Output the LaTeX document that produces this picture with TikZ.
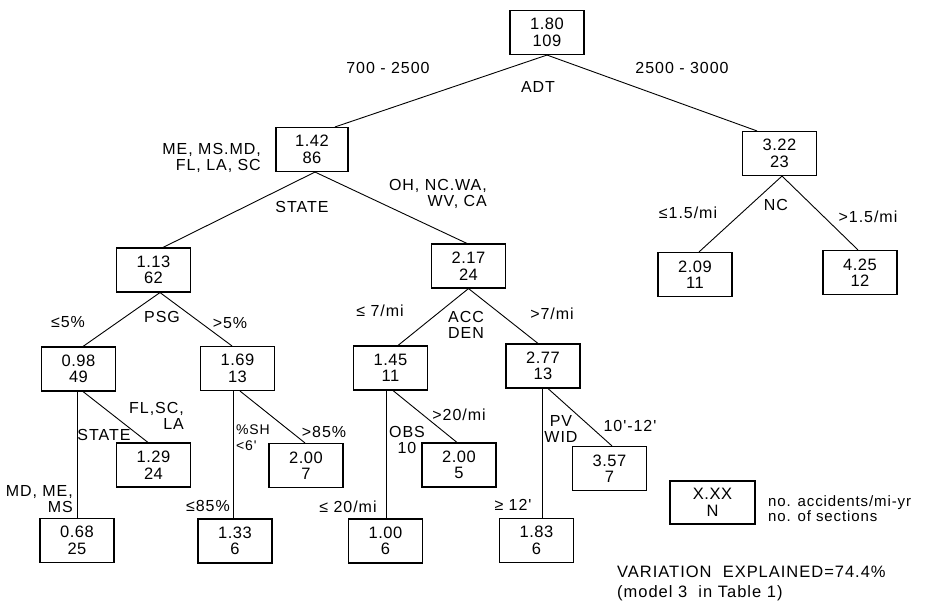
\documentclass[tikz,border=0pt]{standalone}
\usepackage{fontspec}
\setmainfont{Liberation Sans}
\newfontfamily\lblfont[LetterSpace=6]{Liberation Sans}
\newfontfamily\boxfont[LetterSpace=3]{Liberation Sans}
\usetikzlibrary{calc}
\begin{document}
\begin{tikzpicture}[x=1pt,y=-1pt,
  box/.style={draw,line width=1.1pt,minimum width=74pt,minimum height=44pt,inner sep=0pt,align=center,font=\boxfont\fontsize{16.5}{16.5}\selectfont},
  lbl/.style={inner sep=0pt,align=center,font=\lblfont\fontsize{16}{16}\selectfont},
  edge/.style={line width=0.9pt}]
\useasboundingbox (0,0) rectangle (933,604);
% boxes
\node[box] (root) at (547,32.5) {1.80\\109};
\node[box,minimum width=72pt] (n142) at (312,149.5) {1.42\\86};
\node[box] (n217) at (468.5,266) {2.17\\24};
\node[box] (n322) at (779.5,153.5) {3.22\\23};
\node[box] (n209) at (695,274.5) {2.09\\11};
\node[box] (n425) at (860,272.5) {4.25\\12};
\node[box] (n113) at (153.5,270) {1.13\\62};
\node[box] (n098) at (78.5,369) {0.98\\49};
\node[box] (n169) at (237.5,368.5) {1.69\\13};
\node[box] (n129) at (153.5,465) {1.29\\24};
\node[box] (n068) at (77,540.5) {0.68\\25};
\node[box] (n133) at (235,541) {1.33\\6};
\node[box] (n200a) at (306,465.5) {2.00\\7};
\node[box] (n145) at (390.5,368) {1.45\\11};
\node[box] (n277) at (543,366) {2.77\\13};
\node[box] (n200b) at (459,465) {2.00\\5};
\node[box] (n100) at (385.5,541) {1.00\\6};
\node[box] (n183) at (536.5,540.5) {1.83\\6};
\node[box] (n357) at (609.5,468.5) {3.57\\7};
\node[box,minimum width=85pt,minimum height=43pt] (leg) at (712.5,502.5) {X.XX\\N};
% connectors
\draw[edge] (root.south) -- ([xshift=23pt]n142.north);
\draw[edge] (root.south) -- ([xshift=-22.5pt]n322.north);
\draw[edge] ([xshift=3pt]n142.south) -- ([xshift=9.5pt]n113.north);
\draw[edge] ([xshift=3pt]n142.south) -- ([xshift=-1.5pt]n217.north);
\draw[edge] ([xshift=6.5pt]n113.south) -- ([xshift=4.5pt]n098.north);
\draw[edge] ([xshift=6.5pt]n113.south) -- ([xshift=-5.5pt]n169.north);
\draw[edge] (n217.south) -- ([xshift=7.5pt]n145.north);
\draw[edge] (n217.south) -- ([xshift=-5pt]n277.north);
\draw[edge] ([xshift=2.5pt]n322.south) -- ([xshift=4pt]n209.north);
\draw[edge] ([xshift=2.5pt]n322.south) -- ([xshift=-2pt]n425.north);
\draw[edge] ([xshift=-1.5pt]n098.south) -- ([xshift=-1.5pt]n098.south |- n068.north);
\draw[edge] ([xshift=4.5pt]n098.south) -- ([xshift=-5.5pt]n129.north);
\draw[edge] ([xshift=-4.5pt]n169.south) -- ([xshift=-4.5pt]n169.south |- n133.north);
\draw[edge] ([xshift=2.5pt]n169.south) -- ([xshift=-1pt]n200a.north);
\draw[edge] ([xshift=-4.5pt]n145.south) -- ([xshift=-4.5pt]n145.south |- n100.north);
\draw[edge] ([xshift=2.5pt]n145.south) -- ([xshift=-2pt]n200b.north);
\draw[edge] ([xshift=-1pt]n277.south) -- ([xshift=-1pt]n277.south |- n183.north);
\draw[edge] ([xshift=5pt]n277.south) -- ([xshift=2.5pt]n357.north);
% labels
\node[lbl] (l1) at (388,68) {700 - 2500};
\node[lbl] (l2) at (682,68) {2500 - 3000};
\node[lbl] (l3) at (538,87) {ADT};
\node[lbl,align=right,anchor=east] (l4) at (261,157.5) {ME, MS.MD,\\FL, LA, SC};
\node[lbl] (l5) at (302,207) {STATE};
\node[lbl,align=right,anchor=east] (l6) at (487,194) {OH, NC.WA,\\WV, CA};
\node[lbl] (l7) at (688,213) {≤1.5/mi};
\node[lbl] (l8) at (776,205) {NC};
\node[lbl] (l9) at (868,217) {>1.5/mi};
\node[lbl] (l10) at (68,322) {≤5\%};
\node[lbl] (l11) at (162,317) {PSG};
\node[lbl] (l12) at (230,323) {>5\%};
\node[lbl] (l13) at (380,311) {≤ 7/mi};
\node[lbl] (l14) at (466,325) {ACC\\DEN};
\node[lbl] (l15) at (552,314) {>7/mi};
\node[lbl,align=right,anchor=east] (l16) at (184,416) {FL,SC,\\LA};
\node[lbl] (l17) at (104,435) {STATE};
\node[lbl,anchor=west,align=left,font=\lblfont\fontsize{14}{16}\selectfont] (l19) at (236,438) {\%SH\\<6'};
\node[lbl,align=right,anchor=east] (l18) at (73,499) {MD, ME,\\MS};
\node[lbl] (l20) at (324,432) {>85\%};
\node[lbl] (l21) at (208,506) {≤85\%};
\node[lbl] (l22) at (459,415) {>20/mi};
\node[lbl] (l23) at (407,439.5) {OBS\\10};
\node[lbl] (l24) at (348,507) {≤ 20/mi};
\node[lbl] (l25) at (561,428.5) {PV\\WID};
\node[lbl] (l26) at (630,426) {10'-12'};
\node[lbl] (l27) at (513,505) {≥ 12'};
\node[lbl,anchor=west,align=left,font=\lblfont\fontsize{15}{12}\selectfont] (l28) at (768,509) {no. accidents/mi-yr\\no. of sections};
\node[lbl,anchor=west,align=left,font=\lblfont\fontsize{16.5}{20}\selectfont] (l29) at (617,583) {VARIATION\ \ EXPLAINED=74.4\%\\(model 3 \ in Table 1)};
\end{tikzpicture}
\end{document}
